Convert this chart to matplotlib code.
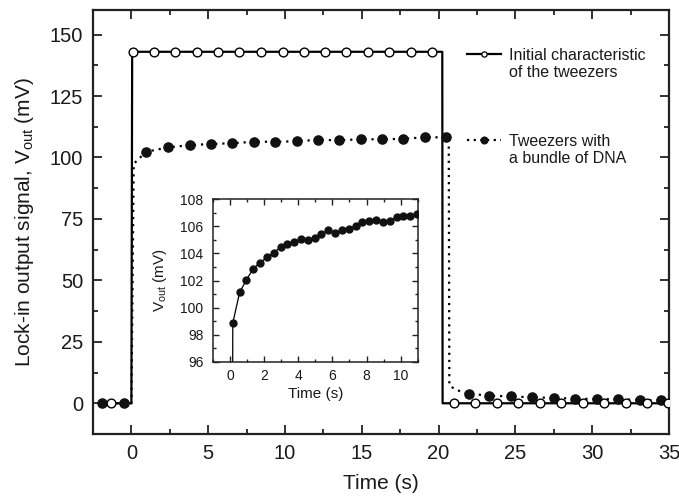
import matplotlib
matplotlib.use("Agg")
import matplotlib.pyplot as plt
from matplotlib.lines import Line2D
from matplotlib.ticker import MultipleLocator

plt.rcParams['font.family'] = ['Liberation Sans', 'DejaVu Sans']
plt.rcParams['mathtext.fontset'] = 'custom'
plt.rcParams['mathtext.rm'] = 'Liberation Sans'

# ---- main plot data ----
# Initial characteristic (open circles)
init_marker_t = [-1.3, 0.1, 1.45, 2.86, 4.27, 5.63, 7.03, 8.44, 9.85, 11.23, 12.6,
                 14.0, 15.4, 16.8, 18.2, 19.6,
                 21.0, 22.4, 23.8, 25.2, 26.6, 28.0, 29.4, 30.8, 32.2, 33.6, 34.95]
init_marker_v = [0, 143, 143, 143, 143, 143, 143, 143, 143, 143, 143,
                 143, 143, 143, 143, 143,
                 0, 0, 0, 0, 0, 0, 0, 0, 0, 0, 0]
init_line_t = [-1.9, 0.0, 0.05, 20.24, 20.26, 35.0]
init_line_v = [0, 0, 143, 143, 0, 0]

# Tweezers with a bundle of DNA (filled circles)
dna_marker_t = [-1.9, -0.45, 0.95, 2.38, 3.79, 5.18, 6.58, 7.99, 9.35, 10.76, 12.16, 13.5,
                14.94, 16.3, 17.7, 19.1, 20.5,
                21.95, 23.3, 24.7, 26.1, 27.5, 28.9, 30.3, 31.7, 33.1, 34.5]
dna_marker_v = [0, 0, 102.3, 104.1, 105.0, 105.5, 105.8, 106.4, 106.4, 106.6, 107.2, 107.0,
                107.4, 107.4, 107.6, 108.2, 108.2,
                3.9, 3.1, 2.8, 2.4, 2.2, 1.9, 1.7, 1.7, 1.3, 1.2]
dna_line_t = [-1.9, -0.45, 0.0, 0.15, 0.95, 2.38, 3.79, 5.18, 6.58, 7.99, 9.35, 10.76, 12.16, 13.5,
              14.94, 16.3, 17.7, 19.1, 20.5, 20.66, 20.7, 21.0, 21.5,
              21.95, 23.3, 24.7, 26.1, 27.5, 28.9, 30.3, 31.7, 33.1, 34.5, 35.0]
dna_line_v = [0, 0, 0, 97.4, 102.3, 104.1, 105.0, 105.5, 105.8, 106.4, 106.4, 106.6, 107.2, 107.0,
              107.4, 107.4, 107.6, 108.2, 108.2, 107.5, 7.3, 6.0, 4.6,
              3.9, 3.1, 2.8, 2.4, 2.2, 1.9, 1.7, 1.7, 1.3, 1.2, 1.2]

# ---- inset data ----
inset_t = [0.16, 0.56, 0.96, 1.36, 1.76, 2.16, 2.56, 2.96, 3.36, 3.76, 4.16, 4.56, 4.96, 5.36,
           5.76, 6.16, 6.56, 6.96, 7.36, 7.76, 8.16, 8.56, 8.96, 9.36, 9.76, 10.16, 10.56, 10.94]
inset_v = [98.85, 101.12, 102.05, 102.88, 103.32, 103.71, 104.05, 104.46, 104.71, 104.88,
           105.07, 105.02, 105.15, 105.46, 105.70, 105.50, 105.76, 105.80, 106.02, 106.30,
           106.40, 106.49, 106.32, 106.37, 106.68, 106.78, 106.80, 106.93]
inset_line_t = [0.0] + inset_t
inset_line_v = [0.0] + inset_v

main_xticks = [0, 5, 10, 15, 20, 25, 30, 35]
main_yticks = [0, 25, 50, 75, 100, 125, 150]
inset_xticks = [0, 2, 4, 6, 8, 10]
inset_yticks = [96, 98, 100, 102, 104, 106, 108]

fig = plt.figure(figsize=(6.79, 4.98), dpi=100)
ax = fig.add_axes([93/679, 64/498, (669-93)/679, (434-10)/498])

ax.plot(init_line_t, init_line_v, color='black', lw=1.6, zorder=3)
ax.plot(init_marker_t, init_marker_v, ls='none', marker='o', ms=6.3, mfc='white',
        mec='black', mew=1.0, zorder=5)
ax.plot(dna_line_t, dna_line_v, color='black', lw=1.6, ls=(0, (1, 2.2)), zorder=2)
ax.plot(dna_marker_t, dna_marker_v, ls='none', marker='o', ms=6.6, mfc='#111111',
        mec='#111111', zorder=4)

ax.set_xlim(-2.5, 35)
ax.set_ylim(-12.5, 160)
ax.set_xticks(main_xticks)
ax.set_yticks(main_yticks)
ax.xaxis.set_minor_locator(MultipleLocator(2.5))
ax.yaxis.set_minor_locator(MultipleLocator(12.5))
ax.tick_params(which='both', direction='in', top=True, right=True, width=1.3,
               labelsize=14.5, pad=7, color='#222222', labelcolor='#1a1a1a')
ax.tick_params(which='major', length=6.5)
ax.tick_params(which='minor', length=3.5)
for s in ax.spines.values():
    s.set_linewidth(1.6)
    s.set_color('#222222')
ax.set_xlabel('Time (s)', fontsize=15, labelpad=8, color='#1a1a1a')
ax.set_ylabel(r'Lock-in output signal, V$_\mathregular{out}$ (mV)', fontsize=15,
              labelpad=10, color='#1a1a1a')

# legends (two, each with a handle on the first line)
h1 = Line2D([], [], color='black', lw=1.6, marker='o', ms=3.8, mfc='white', mec='black', mew=0.9)
h2 = Line2D([], [], color='black', lw=1.6, ls=(0, (1, 2.0)), marker='o', ms=4.8,
            mfc='#111111', mec='#111111')
blank = Line2D([], [], color='none')
common = dict(loc='upper left', bbox_transform=fig.transFigure, frameon=False, fontsize=11.5,
              handlelength=2.15, handletextpad=0.5, labelspacing=0.15, borderpad=0,
              borderaxespad=0, labelcolor='#1a1a1a')
leg1 = ax.legend([h1, blank], ['Initial characteristic', 'of the tweezers'],
                 bbox_to_anchor=(467/679, 1 - 48/498), **common)
ax.add_artist(leg1)
leg2 = ax.legend([h2, blank], ['Tweezers with', 'a bundle of DNA'],
                 bbox_to_anchor=(467/679, 1 - 134/498), **common)

# ---- inset ----
ins = fig.add_axes([213/679, (498-361.7)/498, (417.7-213)/679, (361.7-199.3)/498])
ins.plot(inset_line_t, inset_line_v, color='black', lw=0.9, zorder=2)
ins.plot(inset_t, inset_v, ls='none', marker='o', ms=5, mfc='#111111', mec='#111111', zorder=3)
ins.set_xlim(-1, 11)
ins.set_ylim(96, 108)
ins.set_xticks(inset_xticks)
ins.set_yticks(inset_yticks)
ins.xaxis.set_minor_locator(MultipleLocator(1))
ins.yaxis.set_minor_locator(MultipleLocator(1))
ins.tick_params(which='both', direction='in', top=True, right=True, width=1.0,
                labelsize=10, pad=5, color='#222222', labelcolor='#1a1a1a')
ins.tick_params(axis='y', pad=7)
ins.tick_params(which='major', length=4)
ins.tick_params(which='minor', length=2.2)
for s in ins.spines.values():
    s.set_linewidth(1.1)
    s.set_color('#222222')
ins.set_xlabel('Time (s)', fontsize=11, labelpad=3, color='#1a1a1a')
ins.set_ylabel(r'V$_\mathregular{out}$ (mV)', fontsize=11, labelpad=8, color='#1a1a1a')

fig.savefig('out.png', dpi=100)
